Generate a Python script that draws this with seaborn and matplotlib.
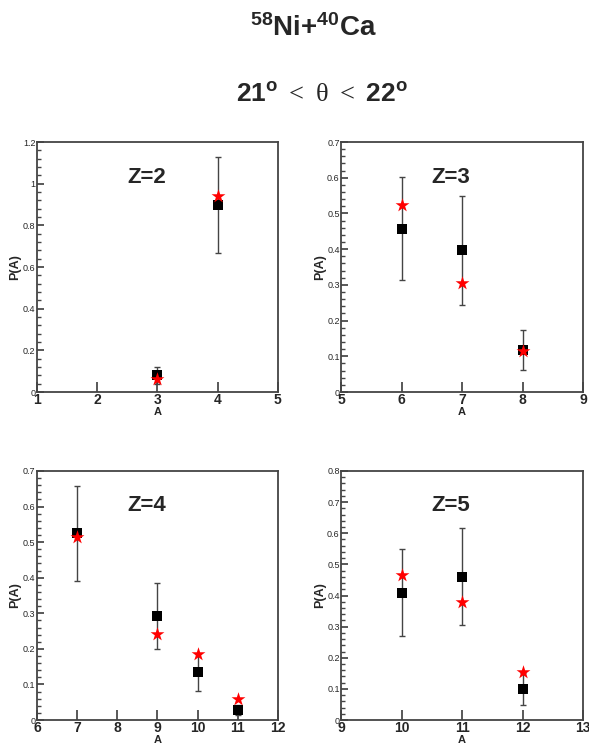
import numpy as np
import pandas as pd
import matplotlib
matplotlib.use("Agg")
import matplotlib.pyplot as plt
from matplotlib.ticker import AutoMinorLocator
import seaborn as sns

sns.set_theme(style="ticks")
plt.rcParams['font.family'] = ['Liberation Sans', 'DejaVu Sans']
plt.rcParams['mathtext.fontset'] = 'custom'
plt.rcParams['mathtext.bf'] = 'Liberation Sans:bold'
plt.rcParams['mathtext.rm'] = 'Liberation Serif'
plt.rcParams['mathtext.it'] = 'Liberation Serif'

# ---- data ----
z_labels = ["Z=2", "Z=3", "Z=4", "Z=5"]

a_z2 = [3, 4]
exp_z2 = [0.080, 0.897]
lo_z2 = [0.040, 0.667]
hi_z2 = [0.120, 1.128]
calc_z2 = [0.064, 0.940]

a_z3 = [6, 7, 8]
exp_z3 = [0.457, 0.399, 0.117]
lo_z3 = [0.313, 0.245, 0.063]
hi_z3 = [0.602, 0.549, 0.173]
calc_z3 = [0.525, 0.305, 0.114]

a_z4 = [7, 9, 10, 11]
exp_z4 = [0.527, 0.293, 0.134, 0.028]
lo_z4 = [0.392, 0.200, 0.081, 0.014]
hi_z4 = [0.658, 0.386, 0.187, 0.041]
calc_z4 = [0.514, 0.242, 0.186, 0.060]

a_z5 = [10, 11, 12]
exp_z5 = [0.409, 0.460, 0.099]
lo_z5 = [0.271, 0.305, 0.048]
hi_z5 = [0.548, 0.618, 0.150]
calc_z5 = [0.466, 0.378, 0.155]

xlims = [(1, 5), (5, 9), (6, 12), (9, 13)]
ylims = [(0, 1.2), (0, 0.7), (0, 0.7), (0, 0.8)]
ystep = [0.2, 0.1, 0.1, 0.1]

panels = [
    (a_z2, exp_z2, lo_z2, hi_z2, calc_z2),
    (a_z3, exp_z3, lo_z3, hi_z3, calc_z3),
    (a_z4, exp_z4, lo_z4, hi_z4, calc_z4),
    (a_z5, exp_z5, lo_z5, hi_z5, calc_z5),
]

fig = plt.figure(figsize=(5.89, 7.47), dpi=100)
rects = [
    [0.0628, 0.4752, 0.409, 0.3347],
    [0.579, 0.4752, 0.411, 0.3347],
    [0.0628, 0.0361, 0.409, 0.3334],
    [0.579, 0.0361, 0.411, 0.3334],
]

def ylab(v):
    if abs(v) < 1e-9:
        return "0"
    if abs(v - round(v)) < 1e-9:
        return str(int(round(v)))
    return f"{v:.1f}"

for i, (a, e, lo, hi, c) in enumerate(panels):
    ax = fig.add_axes(rects[i])
    df = pd.DataFrame({"A": a, "exp": e, "lo": lo, "hi": hi, "calc": c})
    yerr = np.vstack([df["exp"] - df["lo"], df["hi"] - df["exp"]])
    ax.errorbar(df["A"], df["exp"], yerr=yerr, fmt="none", ecolor="#444444",
                elinewidth=1.0, capsize=2, capthick=1.0, zorder=2)
    sns.scatterplot(data=df, x="A", y="exp", marker="s", color="black", s=50,
                    edgecolor="black", linewidth=0, ax=ax, zorder=3)
    sns.scatterplot(data=df, x="A", y="calc", marker="*", color="red", s=110,
                    edgecolor="red", linewidth=0, ax=ax, zorder=4)
    ax.set_xlim(*xlims[i])
    ax.set_ylim(*ylims[i])
    xt = np.arange(xlims[i][0], xlims[i][1] + 1)
    ax.set_xticks(xt)
    ax.set_xticklabels([str(v) for v in xt], fontsize=10, fontweight="bold")
    yt = np.arange(ylims[i][0], ylims[i][1] + 1e-9, ystep[i])
    ax.set_yticks(yt)
    ax.set_yticklabels([ylab(v) for v in yt], fontsize=6.5)
    ax.yaxis.set_minor_locator(AutoMinorLocator(5))
    ax.tick_params(axis="both", which="both", direction="in", color="#444444")
    ax.tick_params(axis="x", which="major", length=7, pad=1)
    ax.tick_params(axis="y", which="major", length=5, pad=1)
    ax.tick_params(axis="y", which="minor", length=3)
    ax.tick_params(top=False, right=False)
    for sp in ax.spines.values():
        sp.set_visible(True)
        sp.set_linewidth(1.3)
        sp.set_color("#444444")
    ax.set_xlabel("A", fontsize=8, fontweight="bold", labelpad=0)
    ax.set_ylabel("P(A)", fontsize=9, fontweight="bold", labelpad=1)
    ax.text(0.455, 0.86, z_labels[i], transform=ax.transAxes, ha="center",
            va="center", fontsize=16, fontweight="bold")

fig.text(0.532, 0.963, r"$\mathbf{^{58}Ni{+}^{40}Ca}$", ha="center", va="center",
         fontsize=20)
fig.text(0.547, 0.873, r"$\mathbf{21^{o}}$ $<$ $\theta$ $<$ $\mathbf{22^{o}}$",
         ha="center", va="center", fontsize=19)

fig.savefig("out.png", dpi=100)
